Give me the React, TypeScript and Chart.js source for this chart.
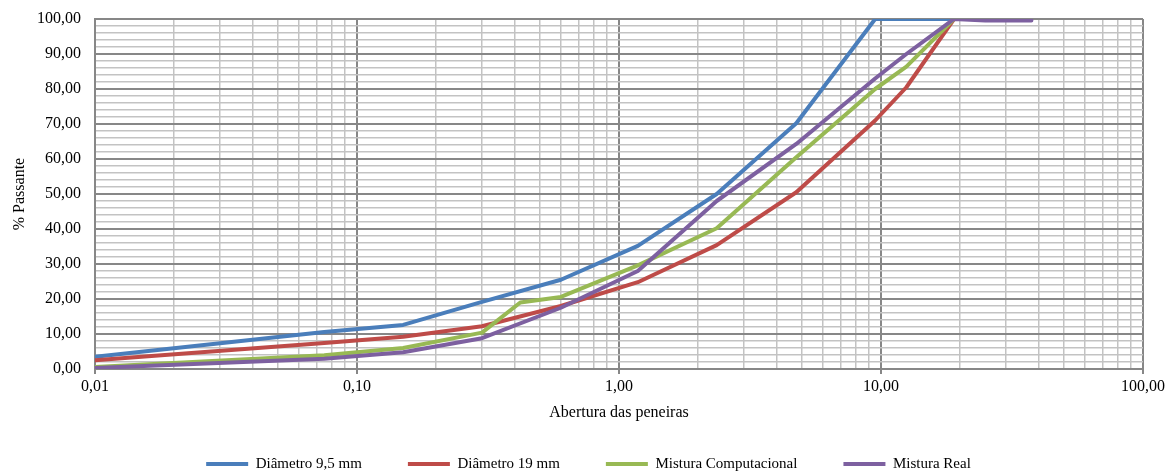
import React, { useEffect, useRef } from 'react';
import { Chart, registerables } from 'chart.js';

Chart.register(...registerables);

// Sieve openings (mm) and % passing per series
const d95Sieves = [0.01, 0.075, 0.15, 0.3, 0.6, 1.18, 2.36, 4.75, 9.5, 12.5, 19, 25];
const d95Values = [3.5, 10.6, 12.6, 19.2, 25.5, 35.2, 50.0, 70.2, 100, 100, 100, 100];

const d19Sieves = [0.01, 0.075, 0.15, 0.3, 0.6, 1.18, 2.36, 4.75, 9.5, 12.5, 19];
const d19Values = [2.5, 7.4, 9.2, 12.2, 18.0, 24.8, 35.4, 50.5, 71.0, 80.5, 100];

const compSieves = [0.01, 0.075, 0.15, 0.3, 0.42, 0.6, 1.18, 2.36, 4.75, 9.5, 12.5, 19];
const compValues = [0.6, 3.9, 6.0, 10.4, 19.0, 20.6, 29.6, 40.2, 60.5, 80.0, 86.4, 100];

const realSieves = [0.01, 0.075, 0.15, 0.3, 0.6, 1.18, 2.36, 4.75, 9.5, 12.5, 19, 25, 37.5];
const realValues = [0.3, 2.9, 4.8, 8.8, 17.5, 28.0, 48.0, 64.3, 83.0, 90.0, 100, 99.6, 99.6];

const seriesLabels = ['Diâmetro 9,5 mm', 'Diâmetro 19 mm', 'Mistura Computacional', 'Mistura Real'];
const seriesColors = ['#4a7ebb', '#be4b48', '#98b954', '#7d60a0'];

// Axis ticks
const xDecades = [0.01, 0.1, 1, 10, 100];
const xMultipliers = [1, 2, 3, 4, 5, 6, 7, 8, 9];
const yMin = 0;
const yMax = 100;
const yMinorStep = 2;
const yMajorStep = 10;

const FONT = "'Liberation Serif', 'Times New Roman', serif";
const MAJOR = '#878787';
const MINOR = '#c3c3c3';

const isDecade = (v: number) => {
  const l = Math.log10(v);
  return Math.abs(l - Math.round(l)) < 1e-9;
};
const isYMajor = (v: number) => Math.abs(v / yMajorStep - Math.round(v / yMajorStep)) < 1e-9;
const fmt = (v: number) => v.toFixed(2).replace('.', ',');

const legendShift = {
  id: 'legendShift',
  afterLayout(chart: any) {
    const l = chart.legend;
    if (l) {
      l.left += 17;
      l.right += 17;
      l.top = 410.5;
      l.bottom = chart.height;
      l.height = l.bottom - l.top;
    }
  },
};

export default function App() {
  const ref = useRef<HTMLCanvasElement>(null);

  useEffect(() => {
    if (!ref.current) return;
    const xGrid: number[] = [];
    xDecades.forEach((d, i) => {
      if (i === xDecades.length - 1) {
        xGrid.push(d);
      } else {
        xMultipliers.forEach((m) => xGrid.push(d * m));
      }
    });
    const yGrid: number[] = [];
    for (let v = yMin; v <= yMax + 1e-9; v += yMinorStep) yGrid.push(v);

    const mk = (i: number, xs: number[], ys: number[], order: number) => ({
      label: seriesLabels[i],
      data: xs.map((x, k) => ({ x, y: ys[k] })),
      borderColor: seriesColors[i],
      backgroundColor: seriesColors[i],
      borderWidth: 4,
      pointRadius: 0,
      pointHoverRadius: 0,
      fill: false,
      tension: 0,
      clip: 0,
      borderCapStyle: 'round' as const,
      borderJoinStyle: 'round' as const,
      order,
    });

    const chart = new Chart(ref.current, {
      type: 'line',
      plugins: [legendShift],
      data: {
        datasets: [
          mk(0, d95Sieves, d95Values, 4),
          mk(1, d19Sieves, d19Values, 3),
          mk(2, compSieves, compValues, 2),
          mk(3, realSieves, realValues, 1),
        ],
      },
      options: {
        animation: false,
        responsive: true,
        maintainAspectRatio: false,
        events: [],
        layout: { padding: { top: 19, right: 28, bottom: 0, left: 0 } },
        plugins: {
          legend: {
            position: 'bottom',
            maxHeight: 52,
            labels: {
              usePointStyle: true,
              pointStyle: 'line',
              pointStyleWidth: 42,
              padding: 46,
              color: '#000',
              font: { family: FONT, size: 15 },
              sort: (a: any, b: any) => a.datasetIndex - b.datasetIndex,
            },
          },
          tooltip: { enabled: false },
        },
        scales: {
          x: {
            type: 'logarithmic',
            min: 0.01,
            max: 100,
            afterBuildTicks: (s: any) => {
              s.ticks = xGrid.map((v) => ({ value: v }));
            },
            afterFit: (s: any) => {
              s.height = 53;
            },
            ticks: {
              autoSkip: false,
              maxRotation: 0,
              minRotation: 0,
              padding: 3,
              color: '#000',
              font: { family: FONT, size: 16 },
              callback: (v: any) => (isDecade(Number(v)) ? fmt(Number(v)) : ''),
            },
            grid: {
              color: (c: any) => (c.tick && isDecade(c.tick.value) ? MAJOR : MINOR),
              lineWidth: (c: any) => (c.tick && isDecade(c.tick.value) ? 2 : 1.5),
              tickLength: 5,
              tickColor: (c: any) => (c.tick && isDecade(c.tick.value) ? MAJOR : 'rgba(0,0,0,0)'),
              tickWidth: 2,
            },
            border: { color: MAJOR, width: 2 },
            title: {
              display: true,
              text: 'Abertura das peneiras',
              color: '#000',
              font: { family: FONT, size: 16 },
              padding: { top: 0, bottom: 0 },
            },
          },
          y: {
            min: yMin,
            max: yMax,
            afterBuildTicks: (s: any) => {
              s.ticks = yGrid.map((v) => ({ value: v }));
            },
            afterFit: (s: any) => {
              s.width = 95;
            },
            ticks: {
              autoSkip: false,
              padding: 0,
              color: '#000',
              font: { family: FONT, size: 16 },
              callback: (v: any) => (isYMajor(Number(v)) ? fmt(Number(v)) : ''),
            },
            grid: {
              drawTicks: true,
              tickLength: 14,
              tickColor: 'rgba(0,0,0,0)',
              color: (c: any) => (c.tick && isYMajor(c.tick.value) ? MAJOR : MINOR),
              lineWidth: (c: any) => (c.tick && isYMajor(c.tick.value) ? 2 : 1.5),
            },
            border: { color: MAJOR, width: 2 },
            title: {
              display: true,
              text: '% Passante',
              color: '#000',
              font: { family: FONT, size: 16 },
              padding: { top: 10, bottom: 0 },
            },
          },
        },
      },
    } as any);

    return () => chart.destroy();
  }, []);

  return (
    <div style={{ position: 'fixed', left: 0, top: 0, width: 1171, height: 474, background: '#fff' }}>
      <canvas ref={ref} />
    </div>
  );
}
